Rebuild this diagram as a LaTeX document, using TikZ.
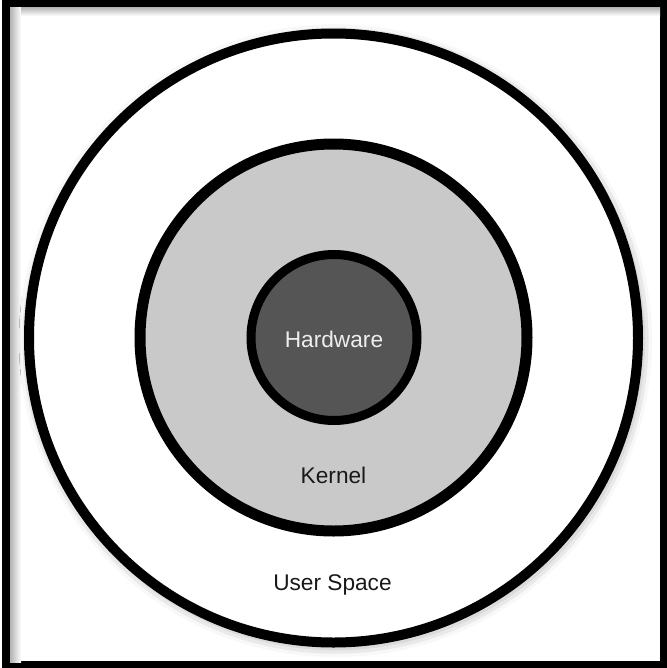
\documentclass[tikz,border=0pt]{standalone}
\usepackage{fontspec}
\setmainfont{Liberation Sans}
\usepackage{tikz}
\usetikzlibrary{shadows.blur}

\definecolor{kernelgray}{RGB}{201,201,201}
\definecolor{hwgray}{RGB}{85,85,85}
\definecolor{hwtext}{RGB}{238,238,238}
\definecolor{labeltext}{RGB}{25,25,25}

\begin{document}
\begin{tikzpicture}[x=0.75pt,y=0.75pt,yscale=-1,
        ring/.style={circle, draw=black, inner sep=0pt},
        labeltxt/.style={inner sep=0.75pt, anchor=base, font=\fontsize{17}{20}\selectfont}]
        \useasboundingbox (0,0) rectangle (667,668);
        
        %Shape: Frame
        \draw [line width=6pt] (6,3.5) rectangle (663.5,665) ;
        \shade [left color=black!30, right color=white] (10,7) rectangle (21,662) ;
        \shade [top color=black!30, bottom color=white] (21,7) rectangle (660,16) ;
        
        %Shape: Circle
        \node (userspace) [ring, line width=7.5pt, minimum size=456.75pt, fill=white,
            blur shadow={shadow xshift=1.5pt, shadow yshift=-2pt, shadow blur radius=9pt, shadow opacity=45}] at (333.5,338) {};
        %Shape: Circle
        \node (kernel) [ring, line width=8.25pt, minimum size=290.25pt, fill=kernelgray] at (333.5,337.5) {};
        %Shape: Circle
        \node (hardware) [ring, line width=6.75pt, minimum size=124.5pt, fill=hwgray] at (334,337.5) {};
        
        % Text Node
        \node (hwlabel) [labeltxt, text=hwtext] at (334,347) {Hardware};
        % Text Node
        \node (kernellabel) [labeltxt, text=labeltext] at (333.5,483) {Kernel};
        % Text Node
        \node (userlabel) [labeltxt, text=labeltext] at (332.5,590) {User Space};
        
\end{tikzpicture}
\end{document}
